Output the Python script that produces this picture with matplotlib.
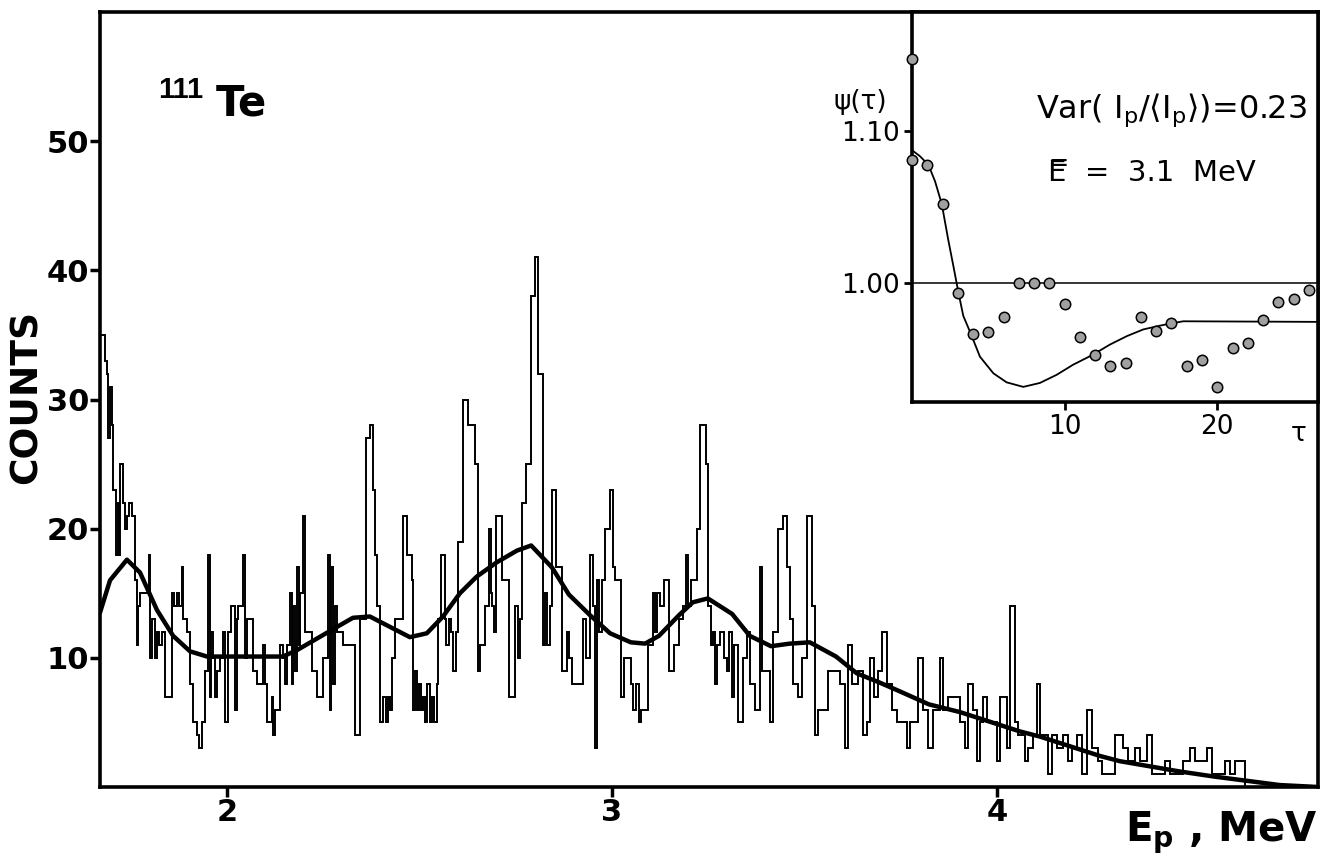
import numpy as np
import matplotlib
matplotlib.use('Agg')
import matplotlib.pyplot as plt

# Settings
OUT_FILE = 'out.png'
W_PX, H_PX = 1322, 861

plt.rcParams['font.family'] = ['DejaVu Sans']
plt.rcParams['mathtext.fontset'] = 'dejavusans'
plt.rcParams['mathtext.default'] = 'regular'

# Proton spectrum of 111Te: left bin edges (MeV) and counts
HIST_LEFT = [
    1.670, 1.683, 1.688, 1.692, 1.696, 1.700, 1.705, 1.712, 1.716, 1.719,
    1.722, 1.731, 1.735, 1.739, 1.745, 1.752, 1.761, 1.765, 1.769, 1.774,
    1.796, 1.800, 1.804, 1.812, 1.818, 1.822, 1.830, 1.839, 1.856, 1.862,
    1.869, 1.874, 1.882, 1.886, 1.897, 1.904, 1.912, 1.921, 1.927, 1.934,
    1.943, 1.951, 1.955, 1.959, 1.964, 1.969, 1.975, 1.982, 1.990, 1.995,
    2.003, 2.010, 2.021, 2.025, 2.029, 2.042, 2.046, 2.051, 2.068, 2.077,
    2.094, 2.098, 2.103, 2.116, 2.120, 2.125, 2.138, 2.146, 2.151, 2.157,
    2.164, 2.168, 2.172, 2.176, 2.181, 2.186, 2.190, 2.198, 2.203, 2.220,
    2.233, 2.250, 2.263, 2.267, 2.271, 2.276, 2.280, 2.285, 2.302, 2.332,
    2.345, 2.360, 2.372, 2.380, 2.384, 2.389, 2.397, 2.406, 2.412, 2.418,
    2.423, 2.428, 2.437, 2.458, 2.468, 2.480, 2.484, 2.488, 2.494, 2.499,
    2.504, 2.510, 2.515, 2.520, 2.526, 2.532, 2.538, 2.545, 2.549, 2.555,
    2.565, 2.570, 2.576, 2.582, 2.588, 2.594, 2.600, 2.613, 2.627, 2.645,
    2.652, 2.658, 2.671, 2.680, 2.685, 2.689, 2.694, 2.698, 2.715, 2.732,
    2.749, 2.755, 2.760, 2.766, 2.777, 2.790, 2.799, 2.809, 2.821, 2.826,
    2.832, 2.838, 2.844, 2.855, 2.870, 2.883, 2.889, 2.896, 2.925, 2.932,
    2.943, 2.950, 2.956, 2.961, 2.967, 2.973, 2.982, 2.995, 3.002, 3.009,
    3.023, 3.031, 3.049, 3.055, 3.062, 3.069, 3.075, 3.094, 3.106, 3.112,
    3.118, 3.125, 3.135, 3.148, 3.161, 3.174, 3.184, 3.192, 3.198, 3.205,
    3.221, 3.229, 3.245, 3.250, 3.256, 3.262, 3.268, 3.274, 3.281, 3.290,
    3.299, 3.305, 3.312, 3.318, 3.327, 3.340, 3.351, 3.358, 3.371, 3.384,
    3.390, 3.410, 3.418, 3.431, 3.444, 3.455, 3.462, 3.470, 3.483, 3.494,
    3.506, 3.519, 3.527, 3.535, 3.561, 3.592, 3.605, 3.613, 3.623, 3.639,
    3.652, 3.662, 3.670, 3.680, 3.691, 3.701, 3.714, 3.727, 3.740, 3.766,
    3.774, 3.795, 3.808, 3.821, 3.834, 3.852, 3.860, 3.873, 3.904, 3.917,
    3.925, 3.938, 3.948, 3.956, 3.964, 3.974, 4.000, 4.008, 4.026, 4.034,
    4.047, 4.055, 4.073, 4.081, 4.094, 4.104, 4.112, 4.132, 4.143, 4.156,
    4.171, 4.184, 4.195, 4.208, 4.221, 4.234, 4.247, 4.262, 4.273, 4.306,
    4.327, 4.340, 4.358, 4.371, 4.390, 4.403, 4.436, 4.449, 4.483, 4.501,
    4.514, 4.545, 4.558, 4.592, 4.605, 4.618,
]
HIST_END = 4.644
HIST_COUNTS = [
    35, 33, 32, 27, 31, 28, 23, 18, 22, 18,
    25, 22, 20, 21, 22, 21, 16, 11, 14, 15,
    18, 10, 13, 10, 12, 11, 12, 7, 15, 14,
    15, 14, 17, 13, 12, 8, 5, 4, 3, 5,
    9, 18, 7, 12, 10, 7, 9, 10, 12, 5,
    12, 14, 6, 13, 14, 18, 10, 13, 9, 8,
    11, 8, 5, 7, 4, 6, 11, 10, 8, 11,
    15, 8, 14, 9, 17, 11, 15, 21, 12, 9,
    7, 10, 18, 6, 17, 8, 14, 12, 11, 4,
    13, 27, 28, 23, 18, 14, 5, 7, 5, 7,
    6, 10, 13, 21, 18, 16, 6, 9, 6, 8,
    6, 7, 5, 8, 5, 7, 5, 8, 13, 18,
    13, 11, 13, 12, 9, 12, 19, 30, 28, 25,
    9, 11, 14, 20, 15, 14, 12, 21, 16, 7,
    14, 10, 13, 22, 25, 38, 41, 32, 11, 15,
    11, 14, 23, 17, 9, 12, 10, 8, 13, 10,
    18, 14, 3, 16, 12, 16, 20, 23, 17, 16,
    7, 10, 8, 6, 8, 5, 6, 11, 15, 12,
    15, 14, 16, 9, 11, 13, 14, 18, 14, 16,
    20, 28, 25, 14, 11, 12, 8, 11, 12, 10,
    9, 12, 7, 11, 5, 10, 12, 8, 6, 17,
    9, 5, 12, 20, 21, 17, 13, 8, 7, 10,
    21, 14, 4, 6, 9, 8, 3, 11, 8, 9,
    4, 5, 10, 7, 9, 12, 8, 6, 5, 3,
    5, 10, 6, 3, 6, 10, 6, 7, 5, 3,
    8, 6, 2, 5, 7, 5, 2, 7, 3, 14,
    5, 4, 2, 3, 4, 8, 4, 1, 4, 3,
    4, 2, 3, 4, 1, 6, 3, 2, 1, 4,
    3, 2, 3, 2, 4, 1, 2, 1, 2, 3,
    2, 3, 1, 2, 1, 2,
]

# Smoothed spectrum (thick line)
SMOOTH_E = [
    1.670, 1.696, 1.740, 1.774, 1.818, 1.860, 1.904, 1.948, 1.990, 2.042,
    2.145, 2.182, 2.234, 2.286, 2.327, 2.371, 2.423, 2.475, 2.519, 2.561,
    2.605, 2.649, 2.701, 2.753, 2.790, 2.844, 2.888, 2.943, 2.995, 3.049,
    3.086, 3.122, 3.174, 3.210, 3.249, 3.312, 3.358, 3.413, 3.462, 3.514,
    3.582, 3.636, 3.694, 3.748, 3.823, 3.904, 3.956, 4.008, 4.060, 4.112,
    4.164, 4.216, 4.268, 4.319, 4.397, 4.475, 4.566, 4.644, 4.735, 4.834,
]
SMOOTH_COUNTS = [
    13.5, 16.0, 17.6, 16.6, 13.7, 11.7, 10.5, 10.1, 10.1, 10.1,
    10.1, 10.6, 11.5, 12.4, 13.1, 13.2, 12.4, 11.6, 11.9, 13.2,
    15.0, 16.3, 17.4, 18.3, 18.7, 17.0, 14.9, 13.3, 11.9, 11.2,
    11.1, 11.7, 13.3, 14.3, 14.6, 13.4, 11.7, 10.9, 11.1, 11.2,
    10.1, 8.8, 8.1, 7.4, 6.4, 5.8, 5.3, 4.8, 4.3, 3.9,
    3.4, 2.9, 2.4, 2.0, 1.6, 1.2, 0.8, 0.5, 0.15, 0.0,
]

# Inset: autocorrelation function psi(tau)
TAU = [0, 0, 1, 2, 3, 4, 5, 6, 7, 8, 9, 10, 11, 12, 13, 14,
       15, 16, 17, 18, 19, 20, 21, 22, 23, 24, 25, 26]
PSI = [1.148, 1.081, 1.078, 1.052, 0.993, 0.966, 0.967, 0.977, 1.000, 1.000,
       1.000, 0.986, 0.964, 0.952, 0.945, 0.947, 0.977, 0.968, 0.973, 0.945,
       0.949, 0.931, 0.957, 0.960, 0.975, 0.987, 0.989, 0.995]
FIT_TAU = [0.0, 0.52, 1.07, 1.51, 1.95, 2.38, 2.71, 3.05, 3.36, 3.86,
           4.45, 5.33, 6.2, 7.29, 8.38, 9.48, 10.56, 11.8, 12.97, 14.06,
           15.15, 16.24, 17.0, 17.77, 26.6]
FIT_PSI = [1.0876, 1.0836, 1.078, 1.067, 1.052, 1.028, 1.011, 0.993, 0.978, 0.966,
           0.951, 0.940, 0.934, 0.931, 0.9336, 0.939, 0.9457, 0.952, 0.959, 0.9645,
           0.969, 0.9715, 0.973, 0.9744, 0.974]

MAIN_XTICKS = [2, 3, 4]
MAIN_YTICKS = [10, 20, 30, 40, 50]
INSET_XTICKS = [10, 20]
INSET_YTICKS = [1.00, 1.10]
INSET_YTICK_LABELS = ['1.00', '1.10']


def fx(px):
    return px / W_PX


def fy(py):
    return 1 - py / H_PX


def main():
    fig = plt.figure(figsize=(W_PX / 100, H_PX / 100), dpi=100)

    # Main spectrum
    ax = fig.add_axes([fx(100), fy(787), fx(1318) - fx(100), fy(12) - fy(787)])
    edges = HIST_LEFT + [HIST_END]
    ax.stairs(HIST_COUNTS, edges, baseline=0, color='black', linewidth=1.4)
    ax.plot(SMOOTH_E, SMOOTH_COUNTS, color='black', linewidth=3.2,
            solid_capstyle='round')
    ax.set_xlim(1.67, 4.834)
    ax.set_ylim(0, 60)
    ax.set_xticks(MAIN_XTICKS)
    ax.set_yticks(MAIN_YTICKS)
    ax.tick_params(direction='out', length=7, width=2.5, labelsize=22, pad=1)
    for lab in ax.get_xticklabels() + ax.get_yticklabels():
        lab.set_fontweight('bold')
    for spine in ax.spines.values():
        spine.set_linewidth(2.6)

    fig.text(fx(27), fy(397), 'COUNTS', rotation=90, fontsize=27,
             fontweight='bold', ha='center', va='center')
    fig.text(fx(1318), fy(833), r'E$_\mathregular{p}$ , MeV', fontsize=29,
             fontweight='bold', ha='right', va='center')
    fig.text(fx(158), fy(90), '111', fontsize=21, fontweight='bold',
             family='Liberation Sans', ha='left', va='center')
    fig.text(fx(216), fy(103), 'Te', fontsize=30, fontweight='bold',
             ha='left', va='center')

    # Inset
    axin = fig.add_axes([fx(912), fy(402), fx(1318) - fx(912), fy(12) - fy(402)])
    axin.set_zorder(5)
    axin.set_facecolor('white')
    axin.axhline(1.0, color='black', linewidth=1.1)
    axin.plot(FIT_TAU, FIT_PSI, color='black', linewidth=1.3)
    axin.plot(TAU, PSI, 'o', markersize=7.5, markerfacecolor='#a0a0a0',
              markeredgecolor='black', markeredgewidth=1.1, clip_on=False,
              zorder=6)
    axin.set_xlim(0, 26.6)
    axin.set_ylim(0.921, 1.179)
    axin.set_xticks(INSET_XTICKS)
    axin.set_yticks(INSET_YTICKS)
    axin.set_yticklabels(INSET_YTICK_LABELS)
    axin.tick_params(direction='out', length=6, width=2, labelsize=19, pad=3)
    for spine in axin.spines.values():
        spine.set_linewidth(2.6)

    fig.text(fx(1036), fy(110), r'Var( I$_\mathregular{p}$/$\langle$I$_\mathregular{p}\rangle$)=0.23',
             fontsize=23, ha='left', va='center', zorder=10)
    fig.text(fx(1048), fy(173), 'E\u033f  =  3.1  MeV', fontsize=21,
             ha='left', va='center', zorder=10)
    fig.text(fx(834), fy(102), '\u03c8(\u03c4)', fontsize=19,
             ha='left', va='center')
    fig.text(fx(1299), fy(434), '\u03c4', fontsize=19,
             ha='center', va='center')

    fig.savefig(OUT_FILE, dpi=100)
    plt.close(fig)


if __name__ == '__main__':
    main()
